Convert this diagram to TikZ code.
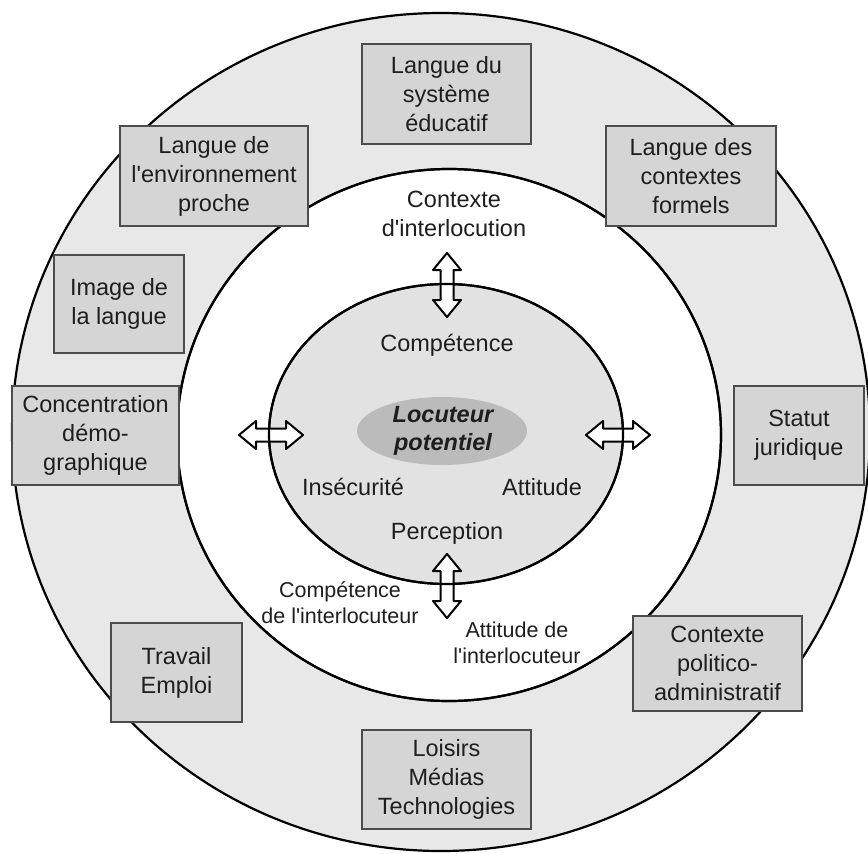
\documentclass[tikz,border=0pt]{standalone}
\usepackage{fontspec}
\newfontfamily\arialf{Liberation Sans}
\definecolor{ringgray}{HTML}{E8E8E8}
\definecolor{innergray}{HTML}{E2E2E2}
\definecolor{boxgray}{HTML}{D5D5D5}
\definecolor{locgray}{HTML}{BBBBBB}
\definecolor{txt}{HTML}{1E1E1E}
\begin{document}
\begin{tikzpicture}[x=1pt,y=-1pt,
  lbl/.style={align=center, inner sep=0pt, text=txt, font=\arialf\fontsize{23.5}{29}\selectfont},
  small/.style={align=center, inner sep=0pt, text=txt, font=\arialf\fontsize{21.5}{26}\selectfont},
  box/.style={lbl, draw=black!70, line width=1.3pt, fill=boxgray},
  ring/.style={draw=black, line width=2.2pt},
  dblarrow/.pic={\draw[fill=white, line width=2pt, line join=round]
    (-32,0) -- (-15,-14) -- (-15,-6.5) -- (15,-6.5) -- (15,-14) -- (32,0)
    -- (15,14) -- (15,6.5) -- (-15,6.5) -- (-15,14) -- cycle;}
  ]
\useasboundingbox (0,0) rectangle (868,854);
\fill[white] (0,0) rectangle (868,854);
% circles (fills)
\draw[ring, fill=ringgray] (441,432) ellipse [x radius=429, y radius=419];
\draw[ring, fill=white] (449,435) ellipse [x radius=272, y radius=266];
\draw[ring, fill=innergray] (446,434) ellipse [x radius=177, y radius=150];
\fill[locgray] (442,431) ellipse [x radius=85, y radius=34];
% arrows
\pic[rotate=90] at (447,285) {dblarrow};
\pic[rotate=90] at (447,586) {dblarrow};
\pic at (271,435) {dblarrow};
\pic at (618,435) {dblarrow};
% circle strokes over the arrows
\draw[ring] (449,435) ellipse [x radius=272, y radius=266];
\draw[ring] (446,434) ellipse [x radius=177, y radius=150];
% centre
\node[lbl, font=\arialf\bfseries\itshape\fontsize{23.5}{28}\selectfont] (loc) at (443,431) {Locuteur\\potentiel};
\node[lbl] (comp) at (447,345) {Compétence};
\node[lbl] (inse) at (353,487) {Insécurité};
\node[lbl] (att) at (542,487) {Attitude};
\node[lbl] (perc) at (447,533) {Perception};
% middle ring labels
\node[lbl] (ctx) at (454,214) {Contexte\\d'interlocution};
\node[small] (compi) at (340,603) {Compétence\\de l'interlocuteur};
\node[small] (atti) at (517,643) {Attitude de\\l'interlocuteur};
% outer boxes
\node[box, minimum width=169pt, minimum height=100pt] (sys) at (446.5,94) {Langue du\\système\\éducatif};
\node[box, minimum width=188pt, minimum height=100pt] (env) at (214,176) {Langue de\\l'environnement\\proche};
\node[box, minimum width=170pt, minimum height=100pt] (form) at (691,176) {Langue des\\contextes\\formels};
\node[box, minimum width=130pt, minimum height=98pt] (img) at (119,304) {Image de\\la langue};
\node[box, minimum width=167pt, minimum height=99pt] (conc) at (95.5,435.5) {Concentration\\démo-\\graphique};
\node[box, minimum width=130pt, minimum height=99pt] (stat) at (799,435.5) {Statut\\juridique};
\node[box, minimum width=131pt, minimum height=99pt] (trav) at (176.5,672.5) {Travail\\Emploi};
\node[box, minimum width=169pt, minimum height=95pt] (pol) at (717.5,663.5) {Contexte\\politico-\\administratif};
\node[box, minimum width=169pt, minimum height=99pt] (lois) at (446.5,779.5) {Loisirs\\Médias\\Technologies};
\end{tikzpicture}
\end{document}
